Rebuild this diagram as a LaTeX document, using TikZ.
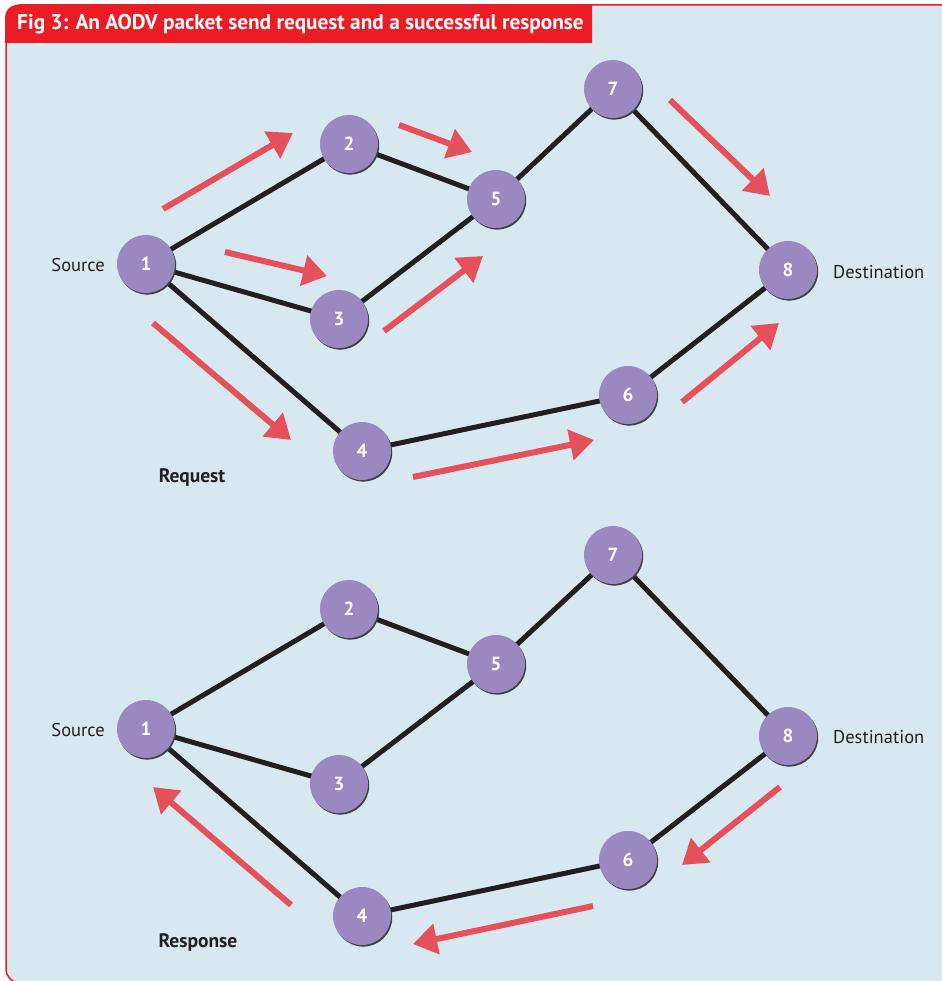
\documentclass[tikz,border=0pt]{standalone}
\usepackage{fontspec}
\setmainfont{PT Sans}
\usetikzlibrary{arrows.meta,calc}
\definecolor{bgblue}{HTML}{D8E8F1}
\definecolor{tabred}{HTML}{EC1C24}
\definecolor{nodepurple}{HTML}{9A88C0}
\definecolor{arrowred}{HTML}{E5505A}
\definecolor{inkdark}{HTML}{231F20}
\tikzset{
  pnode/.style={circle, fill=nodepurple, minimum size=58pt, inner sep=0pt, text=white, font=\fontsize{19}{19}\selectfont\bfseries},
  link/.style={line width=5pt, draw=inkdark},
  flow/.style={line width=6pt, draw=arrowred, -{Triangle[length=24pt,width=30pt]}},
  lbl/.style={text=inkdark, font=\fontsize{18.5}{18.5}\selectfont, inner sep=0pt},
  blbl/.style={text=inkdark, font=\fontsize{19.5}{19.5}\selectfont\bfseries, inner sep=0pt},
}
\begin{document}
\begin{tikzpicture}[x=1pt,y=-1pt]
\useasboundingbox (0,0) rectangle (941,981);
\fill[white] (0,0) rectangle (941,981);
\draw[tabred, line width=1.5pt, fill=bgblue, rounded corners=14pt] (6,5) rectangle (990,983);
\fill[tabred] (5,43) [rounded corners=12pt] -- (5,5) [sharp corners] -- (592,5) -- (592,43) -- cycle;
\node[text=white, font=\fontsize{21.3}{21.3}\selectfont\bfseries, anchor=west, inner sep=0pt] (title) at (17,24) {Fig 3: An AODV packet send request and a successful response};

\foreach \n/\x/\y in {1/146/264, 2/349/144, 3/339/319, 4/362/451, 5/496/199, 6/628/395, 7/613/89, 8/788/270}{
  \coordinate (p\n) at (\x,\y);
}
\foreach \n/\x/\y in {1/146/729, 2/349/609, 3/339/784, 4/362/916, 5/496/664, 6/628/860, 7/613/555, 8/788/736}{
  \coordinate (q\n) at (\x,\y);
}
\foreach \a/\b in {1/2,1/3,1/4,2/5,3/5,5/7,7/8,4/6,6/8}{
  \draw[link] (p\a) -- (p\b);
  \draw[link] (q\a) -- (q\b);
}
\foreach \n in {1,...,8}{
  \fill[black!75] ($(p\n)+(1.2,1.6)$) circle (29);
  \node[pnode] (a\n) at (p\n) {\n};
  \fill[black!75] ($(q\n)+(1.2,1.6)$) circle (29);
  \node[pnode] (b\n) at (q\n) {\n};
}

\node[lbl, anchor=east] (srcA) at (105,265) {Source};
\node[lbl, anchor=west] (dstA) at (833,272) {Destination};
\node[blbl] (req) at (192,478) {Request};
\node[lbl, anchor=east] (srcB) at (105,730) {Source};
\node[lbl, anchor=west] (dstB) at (833,737) {Destination};
\node[blbl] (resp) at (198,943) {Response};

% request arrows
\coordinate (r1s) at (163,209); \coordinate (r1e) at (293,133);
\coordinate (r2s) at (399,125); \coordinate (r2e) at (472,152);
\coordinate (r3s) at (225,252); \coordinate (r3e) at (327,276);
\coordinate (r4s) at (384,331); \coordinate (r4e) at (483,256);
\coordinate (r5s) at (153,323); \coordinate (r5e) at (291,440);
\coordinate (r6s) at (670,100); \coordinate (r6e) at (770,196);
\coordinate (r7s) at (413,477); \coordinate (r7e) at (594,440);
\coordinate (r8s) at (682,402); \coordinate (r8e) at (779,323);
\foreach \i in {1,...,8}{ \draw[flow] (r\i s) -- (r\i e); }

% response arrows
\coordinate (s1s) at (291,905); \coordinate (s1e) at (153,787);
\coordinate (s2s) at (780,787); \coordinate (s2e) at (682,865);
\coordinate (s3s) at (593,906); \coordinate (s3e) at (413,944);
\foreach \i in {1,2,3}{ \draw[flow] (s\i s) -- (s\i e); }
\end{tikzpicture}
\end{document}
